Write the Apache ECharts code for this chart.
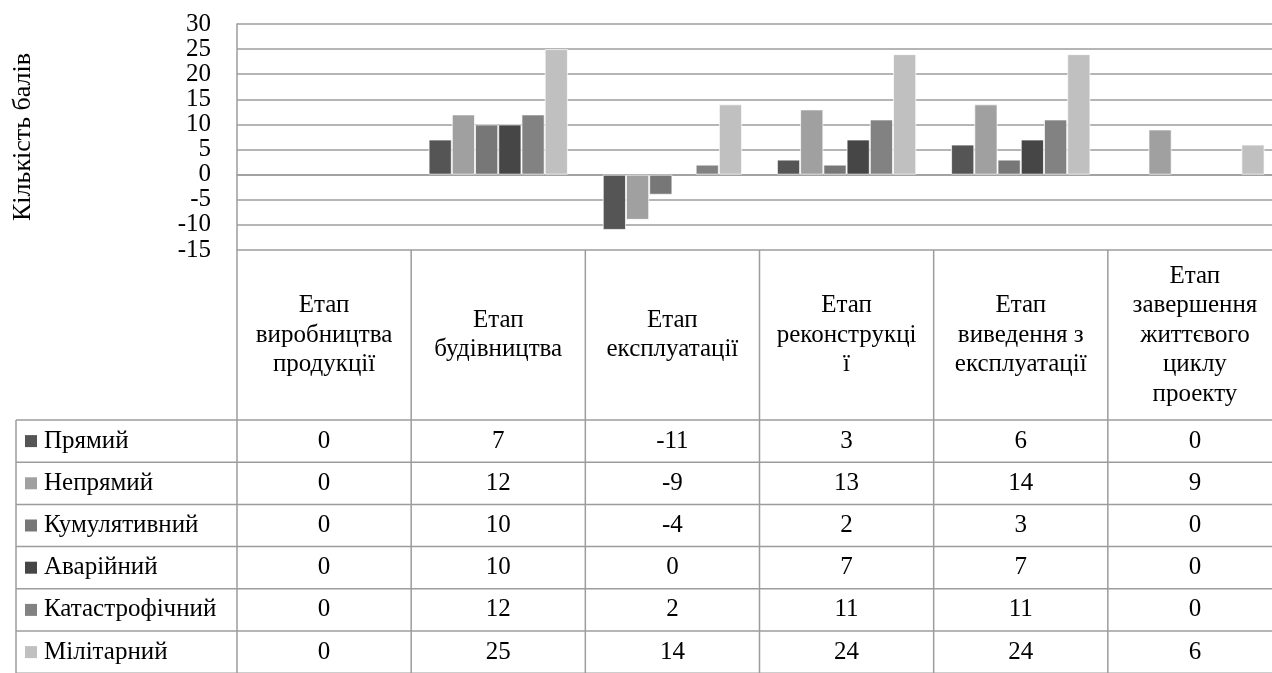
<!DOCTYPE html>
<html>
<head>
<meta charset="utf-8">
<script src="https://cdn.jsdelivr.net/npm/echarts@6/dist/echarts.min.js"></script>
<style>
  html, body { margin: 0; padding: 0; background: #fff; }
  #chart { width: 1272px; height: 673px; }
</style>
</head>
<body>
<div id="chart"></div>
<script>
// Stages of the project life cycle (column headers of the data table)
const categories = [
  'Етап\nвиробництва\nпродукції',
  'Етап\nбудівництва',
  'Етап\nексплуатації',
  'Етап\nреконструкці\nї',
  'Етап\nвиведення з\nексплуатації',
  'Етап\nзавершення\nжиттєвого\nциклу\nпроекту'
];

// Impact types and their scores per stage
const seriesNames = ['Прямий', 'Непрямий', 'Кумулятивний', 'Аварійний', 'Катастрофічний', 'Мілітарний'];
const pryamyi         = [0, 7, -11, 3, 6, 0];
const nepryamyi       = [0, 12, -9, 13, 14, 9];
const kumulyatyvnyi   = [0, 10, -4, 2, 3, 0];
const avariinyi       = [0, 10, 0, 7, 7, 0];
const katastrofichnyi = [0, 12, 2, 11, 11, 0];
const militarnyi      = [0, 25, 14, 24, 24, 6];
const seriesValues = [pryamyi, nepryamyi, kumulyatyvnyi, avariinyi, katastrofichnyi, militarnyi];

// Y axis tick range
const yMin = -15, yMax = 30, yStep = 5;

const seriesColors = ['#555555', '#a0a0a0', '#777777', '#464646', '#828282', '#c0c0c0'];
const FONT = "'Liberation Serif', 'Times New Roman', serif";
const LINE = '#9c9c9c';
const TEXT_SIZE = 25;

const chart = echarts.init(document.getElementById('chart'));

const option = {
  animation: false,
  backgroundColor: '#fff',
  grid: {
    left: 237, right: -10, top: 24, bottom: 423,
    containLabel: false, outerBoundsMode: 'none'
  },
  xAxis: {
    type: 'category',
    data: categories,
    axisLine: { show: true, onZero: true, lineStyle: { color: LINE, width: 1.5 } },
    axisTick: { show: false },
    axisLabel: { show: false },
    splitLine: { show: false }
  },
  yAxis: {
    type: 'value',
    min: yMin, max: yMax, interval: yStep,
    name: 'Кількість балів',
    nameLocation: 'middle',
    nameRotate: 90,
    nameGap: 201,
    nameTextStyle: { fontFamily: FONT, fontSize: 26, color: '#000' },
    axisLine: { show: true, lineStyle: { color: LINE, width: 1.5 } },
    axisTick: { show: false },
    axisLabel: { fontFamily: FONT, fontSize: 25, color: '#000', margin: 26, lineHeight: 25 },
    splitLine: { show: true, lineStyle: { color: LINE, width: 1.5 } }
  },
  series: seriesNames.map((name, i) => ({
    name: name,
    type: 'bar',
    // zero-height bars get no outline so they leave no stroke on the zero line
    data: seriesValues[i].map(v => (v === 0 ? { value: v, itemStyle: { borderWidth: 0 } } : v)),
    barGap: 0,
    barCategoryGap: '20%',
    itemStyle: { color: seriesColors[i], borderColor: 'rgba(255,255,255,0.7)', borderWidth: 1 }
  }))
};

chart.setOption(option);

// Data table under the plot, laid out from the category axis
function drawTable() {
  const els = [];
  const n = categories.length;
  const x0 = chart.convertToPixel({ xAxisIndex: 0 }, 0);
  const x1 = chart.convertToPixel({ xAxisIndex: 0 }, 1);
  const colW = x1 - x0;
  const left = x0 - colW / 2;
  const right = left + colW * n;
  const tableTop = chart.convertToPixel({ yAxisIndex: 0 }, yMin);
  const headerBottom = tableTop + 170;
  const rowH = 42.2;
  const tableLeft = 16;
  const bottom = headerBottom + rowH * seriesNames.length;
  const lineStyle = { stroke: LINE, lineWidth: 1.5 };
  const font = TEXT_SIZE + 'px ' + FONT;

  // vertical column borders
  for (let k = 0; k <= n; k++) {
    const x = left + k * colW;
    els.push({ type: 'line', shape: { x1: x, y1: tableTop, x2: x, y2: bottom }, style: lineStyle, z: 10 });
  }
  els.push({ type: 'line', shape: { x1: tableLeft, y1: headerBottom, x2: tableLeft, y2: bottom }, style: lineStyle, z: 10 });
  // horizontal row borders
  for (let r = 0; r <= seriesNames.length; r++) {
    const y = headerBottom + r * rowH;
    els.push({ type: 'line', shape: { x1: tableLeft, y1: y, x2: right, y2: y }, style: lineStyle, z: 10 });
  }
  // column headers
  for (let k = 0; k < n; k++) {
    els.push({
      type: 'text', z: 11,
      x: left + (k + 0.5) * colW, y: (tableTop + headerBottom) / 2,
      style: {
        text: categories[k], fill: '#000', font: font,
        lineHeight: 29.5, align: 'center', verticalAlign: 'middle'
      }
    });
  }
  // rows: legend key, name, values
  seriesNames.forEach((name, r) => {
    const cy = headerBottom + (r + 0.5) * rowH;
    els.push({ type: 'rect', z: 11, shape: { x: 25, y: cy - 6, width: 12, height: 12 }, style: { fill: seriesColors[r] } });
    els.push({
      type: 'text', z: 11, x: 44, y: cy,
      style: { text: name, fill: '#000', font: font, align: 'left', verticalAlign: 'middle' }
    });
    seriesValues[r].forEach((v, k) => {
      els.push({
        type: 'text', z: 11, x: left + (k + 0.5) * colW, y: cy,
        style: { text: String(v), fill: '#000', font: font, align: 'center', verticalAlign: 'middle' }
      });
    });
  });
  chart.setOption({ graphic: { elements: els } });
}

drawTable();
</script>
</body>
</html>
